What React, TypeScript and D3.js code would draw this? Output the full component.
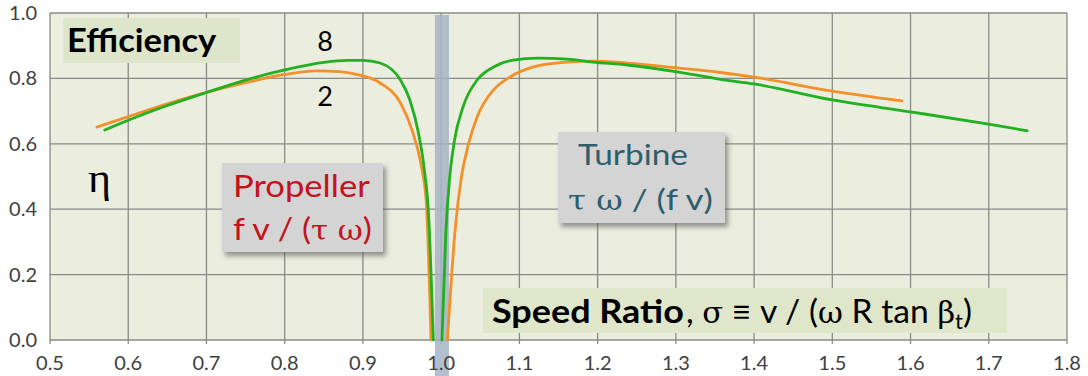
import React, { useEffect, useRef } from 'react'
import * as d3 from 'd3'

// propeller side (left of sigma = 1) and turbine side (right of it)
const orangeLeftX = [0.56, 0.6, 0.65, 0.7, 0.75, 0.8, 0.84, 0.87, 0.896, 0.922, 0.948, 0.964, 0.974, 0.981, 0.987]
const orangeLeftY = [0.651, 0.683, 0.722, 0.757, 0.787, 0.812, 0.823, 0.821, 0.81, 0.786, 0.725, 0.633, 0.54, 0.42, 0.0]
const orangeRightX = [1.008, 1.018, 1.026, 1.035, 1.046, 1.067, 1.088, 1.118, 1.161, 1.194, 1.238, 1.302, 1.357, 1.4, 1.5, 1.589]
const orangeRightY = [0.0, 0.34, 0.5, 0.6, 0.682, 0.765, 0.804, 0.835, 0.85, 0.853, 0.847, 0.832, 0.818, 0.804, 0.761, 0.731]

const greenLeftX = [0.57, 0.6, 0.65, 0.7, 0.75, 0.8, 0.85, 0.88, 0.9, 0.922, 0.948, 0.96, 0.971, 0.978, 0.984, 0.99]
const greenLeftY = [0.642, 0.672, 0.717, 0.757, 0.795, 0.826, 0.849, 0.855, 0.855, 0.847, 0.795, 0.734, 0.633, 0.53, 0.38, 0.0]
const greenRightX = [1.001, 1.006, 1.011, 1.017, 1.028, 1.046, 1.067, 1.092, 1.123, 1.161, 1.194, 1.238, 1.302, 1.357, 1.4, 1.5, 1.602, 1.7, 1.749]
const greenRightY = [0.0, 0.33, 0.5, 0.61, 0.713, 0.795, 0.835, 0.856, 0.862, 0.859, 0.85, 0.841, 0.82, 0.797, 0.783, 0.734, 0.697, 0.66, 0.64]

const xTicks = [0.5, 0.6, 0.7, 0.8, 0.9, 1.0, 1.1, 1.2, 1.3, 1.4, 1.5, 1.6, 1.7, 1.8]
const yTicks = [0.0, 0.2, 0.4, 0.6, 0.8, 1.0]
const band = [0.992, 1.01]

const W = 1088
const H = 376
const M = { left: 50, right: 21, top: 13, bottom: 36 }

// stretch a text horizontally so it spans [left, left + width]
function fit(el: SVGTextElement, left: number, width: number) {
  const b = el.getBBox()
  if (!b.width) return
  const s = width / b.width
  el.setAttribute('transform', `translate(${left},0) scale(${s},1) translate(${-b.x},0)`)
}

export default function App() {
  const ref = useRef<SVGSVGElement | null>(null)

  useEffect(() => {
    if (!ref.current) return
    const svg = d3.select(ref.current)
    svg.selectAll('*').remove()

    const x = d3.scaleLinear().domain([0.5, 1.8]).range([M.left, W - M.right])
    const y = d3.scaleLinear().domain([0, 1]).range([H - M.bottom, M.top])

    const defs = svg.append('defs')
    const f = defs.append('filter').attr('id', 'shadow').attr('x', '-10%').attr('y', '-10%').attr('width', '130%').attr('height', '140%')
    f.append('feDropShadow').attr('dx', 3).attr('dy', 4).attr('stdDeviation', 2.5).attr('flood-color', '#555').attr('flood-opacity', 0.6)

    svg.append('rect').attr('width', W).attr('height', H).attr('fill', '#fff')

    // plot area
    svg
      .append('rect')
      .attr('x', x(0.5))
      .attr('y', y(1))
      .attr('width', x(1.8) - x(0.5))
      .attr('height', y(0) - y(1))
      .attr('fill', '#ebeddf')

    // grid
    const grid = svg.append('g').attr('stroke', '#8a8a86').attr('stroke-width', 1.3)
    grid
      .selectAll('line.v')
      .data(xTicks)
      .join('line')
      .attr('x1', (d) => x(d))
      .attr('x2', (d) => x(d))
      .attr('y1', y(1))
      .attr('y2', y(0) + 4)
    grid
      .selectAll('line.h')
      .data(yTicks)
      .join('line')
      .attr('x1', x(0.5))
      .attr('x2', x(1.8))
      .attr('y1', (d) => y(d))
      .attr('y2', (d) => y(d))

    // the sigma = 1 band
    svg
      .append('rect')
      .attr('x', x(band[0]))
      .attr('width', x(band[1]) - x(band[0]))
      .attr('y', y(1) + 2)
      .attr('height', H - y(1) - 2)
      .attr('fill', '#a6b4c5')
      .attr('opacity', 0.85)

    // tick labels
    const tickFont = 'Lato, "Open Sans", sans-serif'
    svg
      .append('g')
      .selectAll('text')
      .data(yTicks)
      .join('text')
      .attr('x', 37)
      .attr('y', (d) => y(d) + 7)
      .attr('text-anchor', 'end')
      .attr('font-family', tickFont)
      .attr('font-size', 20)
      .attr('fill', '#404040')
      .text((d) => d.toFixed(1))
    svg
      .append('g')
      .selectAll('text')
      .data(xTicks)
      .join('text')
      .attr('x', (d) => x(d))
      .attr('y', 370)
      .attr('text-anchor', 'middle')
      .attr('font-family', tickFont)
      .attr('font-size', 20)
      .attr('fill', '#404040')
      .text((d) => d.toFixed(1))

    // curves
    const line = d3
      .line<[number, number]>()
      .x((d) => x(d[0]))
      .y((d) => y(d[1]))
      .curve(d3.curveMonotoneX)
    const zip = (xs: number[], ys: number[]) => xs.map((v, i) => [v, ys[i]] as [number, number])
    const series = [
      { pts: zip(orangeLeftX, orangeLeftY), color: '#f4902a' },
      { pts: zip(orangeRightX, orangeRightY), color: '#f4902a' },
      { pts: zip(greenLeftX, greenLeftY), color: '#20b020' },
      { pts: zip(greenRightX, greenRightY), color: '#20b020' },
    ]
    svg
      .append('g')
      .selectAll('path')
      .data(series)
      .join('path')
      .attr('d', (d) => line(d.pts))
      .attr('fill', 'none')
      .attr('stroke', (d) => d.color)
      .attr('stroke-width', 2.8)
      .attr('stroke-linecap', 'round')

    const font = 'Lato, "Open Sans", sans-serif'
    const greek = '"DejaVu Serif", "Liberation Serif", serif'

    // Efficiency label
    svg.append('rect').attr('x', 63).attr('y', 18).attr('width', 177).attr('height', 45).attr('fill', '#dde5cb')
    const eff = svg
      .append('text')
      .attr('y', 52)
      .attr('font-family', font)
      .attr('font-weight', 700)
      .attr('font-size', 33)
      .attr('fill', '#000')
      .text('Efficiency')
    fit(eff.node()!, 67, 150)

    svg.append('text').attr('x', 325).attr('y', 51).attr('text-anchor', 'middle').attr('font-family', font).attr('font-size', 27).text('8')
    svg.append('text').attr('x', 325).attr('y', 106).attr('text-anchor', 'middle').attr('font-family', font).attr('font-size', 27).text('2')
    const eta = svg.append('text').attr('y', 192).attr('font-family', '"Liberation Serif", serif').attr('font-size', 40).text('η')
    fit(eta.node()!, 88, 23)

    // Propeller box
    svg.append('rect').attr('x', 222).attr('y', 163).attr('width', 161).attr('height', 89).attr('fill', '#d4d4d4').attr('filter', 'url(#shadow)')
    const prop = svg.append('g').attr('font-family', font).attr('font-size', 30).attr('fill', '#c4121c')
    const p1 = prop.append('text').attr('y', 197).text('Propeller')
    fit(p1.node()!, 233, 137)
    const p2 = prop.append('text').attr('y', 240)
    p2.append('tspan').text('f v / (')
    p2.append('tspan').attr('font-family', greek).attr('font-size', 27).text('τ ω')
    p2.append('tspan').text(')')
    fit(p2.node()!, 233, 139)

    // Turbine box
    svg.append('rect').attr('x', 558).attr('y', 132).attr('width', 167).attr('height', 91).attr('fill', '#d4d4d4').attr('filter', 'url(#shadow)')
    const turb = svg.append('g').attr('font-family', font).attr('font-size', 29).attr('fill', '#2e5d6b')
    const t1 = turb.append('text').attr('y', 165).text('Turbine')
    fit(t1.node()!, 578, 110)
    const t2 = turb.append('text').attr('y', 210)
    t2.append('tspan').attr('font-family', greek).attr('font-size', 27).text('τ ω')
    t2.append('tspan').text(' / (f v)')
    fit(t2.node()!, 568, 145)

    // Speed ratio label
    svg.append('rect').attr('x', 483).attr('y', 288).attr('width', 524).attr('height', 45).attr('fill', '#dfe6c9')
    const sr1 = svg
      .append('text')
      .attr('y', 323)
      .attr('font-family', font)
      .attr('font-size', 32)
      .attr('font-weight', 700)
      .text('Speed Ratio')
    fit(sr1.node()!, 492, 192)
    const sr = svg.append('text').attr('y', 323).attr('font-family', font).attr('font-size', 32).attr('fill', '#000')
    sr.append('tspan').text(', ')
    sr.append('tspan').attr('font-family', greek).attr('font-size', 29).text('σ')
    sr.append('tspan').text(' ≡ v / (')
    sr.append('tspan').attr('font-family', greek).attr('font-size', 29).text('ω')
    sr.append('tspan').text(' R tan ')
    sr.append('tspan').attr('font-family', greek).attr('font-size', 29).text('β')
    sr.append('tspan').attr('font-size', 21).attr('dy', 6).text('t')
    sr.append('tspan').attr('dy', -6).text(')')
    fit(sr.node()!, 686, 286)
  }, [])

  return (
    <svg
      ref={ref}
      width={W}
      height={H}
      style={{ position: 'absolute', left: 0, top: 0 }}
      role="img"
      aria-label="Efficiency vs speed ratio"
    />
  )
}
